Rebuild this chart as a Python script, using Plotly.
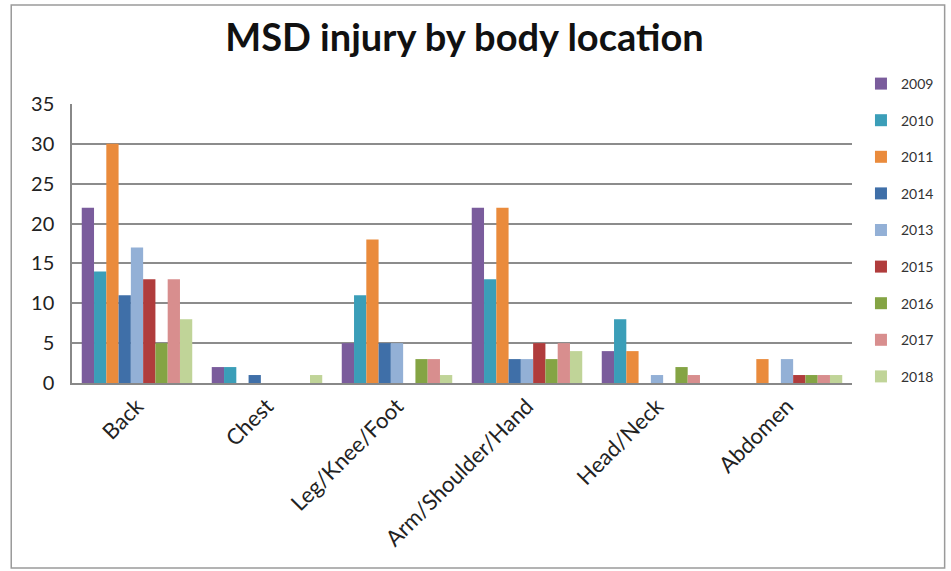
import plotly.graph_objects as go

categories = ["Back", "Chest", "Leg/Knee/Foot", "Arm/Shoulder/Hand", "Head/Neck", "Abdomen"]
years = ["2009", "2010", "2011", "2014", "2013", "2015", "2016", "2017", "2018"]
v2009 = [22, 2, 5, 22, 4, 0]
v2010 = [14, 2, 11, 13, 8, 0]
v2011 = [30, 0, 18, 22, 4, 3]
v2014 = [11, 1, 5, 3, 0, 0]
v2013 = [17, 0, 5, 3, 1, 3]
v2015 = [13, 0, 0, 5, 0, 1]
v2016 = [5, 0, 3, 3, 2, 1]
v2017 = [13, 0, 3, 5, 1, 1]
v2018 = [8, 1, 1, 4, 0, 1]
series = [v2009, v2010, v2011, v2014, v2013, v2015, v2016, v2017, v2018]
colors = ["#7A5C9C", "#3B9EB8", "#EA8B3C", "#3F6FA8", "#93B0D6",
          "#B03C3C", "#84A444", "#D88E8E", "#C0D498"]
y_ticks = [0, 5, 10, 15, 20, 25, 30, 35]

W, H = 951, 571
ml, mr, mt, mb = 72, 96, 104, 188
pw, ph = W - ml - mr, H - mt - mb

fig = go.Figure()
for name, vals, col in zip(years, series, colors):
    fig.add_trace(go.Bar(name=name, x=categories, y=vals, marker_color=col,
                         marker_line_width=0, legendgroup=name))

def px_x(x):
    return (x - ml) / pw

def px_y(y):
    return (H - mb - y) / ph

fig.add_shape(type="rect", xref="paper", yref="paper",
              x0=px_x(11), x1=px_x(948), y0=px_y(568), y1=px_y(5),
              line=dict(color="#9a9a9a", width=1.5), layer="below")

fig.update_layout(
    width=W, height=H,
    margin=dict(l=ml, r=mr, t=mt, b=mb),
    paper_bgcolor="white", plot_bgcolor="white",
    font=dict(family="Lato, Open Sans, sans-serif", color="#222"),
    title=dict(text="<b>MSD injury by body location</b>", x=px_x(466), xanchor="center",
               xref="paper", y=1 - 38 / H, yanchor="middle",
               font=dict(size=38, color="#111")),
    bargap=0.15, bargroupgap=0,
    showlegend=True,
    legend=dict(x=px_x(864), xanchor="left", y=px_y(68), yanchor="top",
                font=dict(size=14, color="#333"), tracegroupgap=15.4,
                itemwidth=30, bgcolor="rgba(0,0,0,0)", maxheight=520),
    xaxis=dict(tickangle=-45, tickfont=dict(size=22, color="#222"),
               showline=True, linecolor="#888", linewidth=1.5, ticks=""),
    yaxis=dict(range=[0, 35], tickvals=y_ticks, tickfont=dict(size=20, color="#222"),
               showgrid=True, gridcolor="#8c8c8c", gridwidth=1.5,
               showline=True, linecolor="#888", linewidth=1.5,
               zeroline=False, ticks="", ticklen=0, ticklabelstandoff=12),
)

fig.write_html("out.html")
